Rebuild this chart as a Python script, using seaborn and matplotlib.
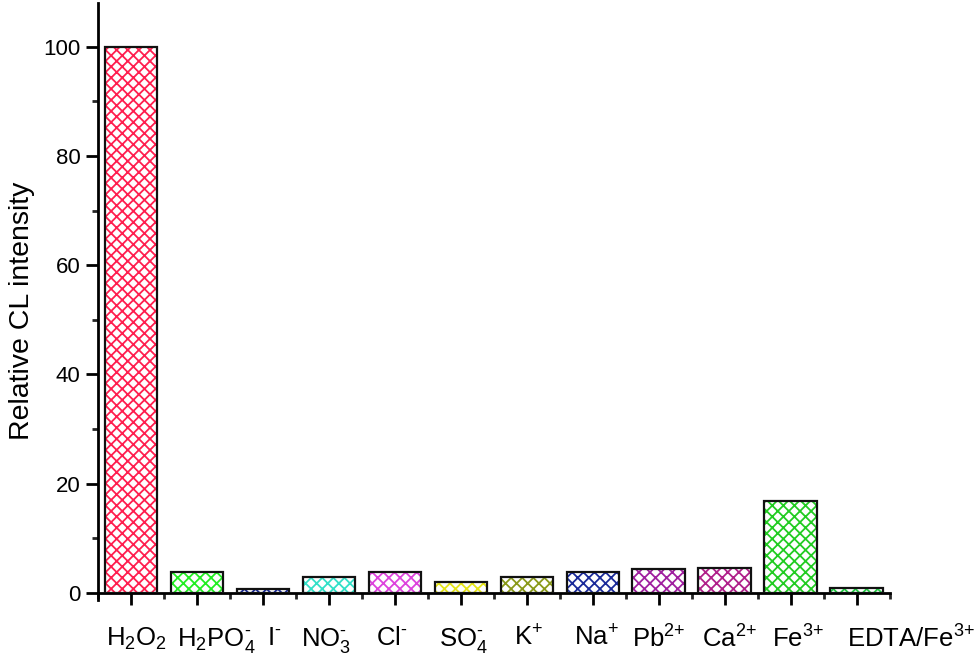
import matplotlib
matplotlib.use("Agg")
import matplotlib.pyplot as plt
import seaborn as sns
import pandas as pd
from matplotlib.patches import Rectangle
from matplotlib.ticker import MultipleLocator
from matplotlib.transforms import ScaledTranslation

categories = ['H$_2$O$_2$', 'H$_2$PO$_4^{‐}$', 'I$^{‐}$', 'NO$_3^{‐}$', 'Cl$^{‐}$', 'SO$_4^{‐}$',
              'K$^{+}$', 'Na$^{+}$', 'Pb$^{2{+}}$', 'Ca$^{2{+}}$', 'Fe$^{3{+}}$', 'EDTA/Fe$^{3{+}}$']
values = [100, 3.8, 0.7, 3.0, 3.8, 2.0, 3.0, 3.8, 4.4, 4.6, 16.9, 0.9]
hatch_colors = ['#ff1f4f', '#22ee22', '#1a2a99', '#33e0c8', '#dd44dd', '#e6e61a',
                '#8a9a1a', '#1a2a99', '#a020a0', '#b0208a', '#22cc22', '#22cc44']

# horizontal nudges (pixels) of the tick labels, as laid out in the reference
label_shift_px = [5, 19, 11, -3, -3, 3, 2, 3, 0, 5, 7, 54]

sns.set_style('ticks')
plt.rcParams['font.family'] = ['Liberation Sans', 'DejaVu Sans']
plt.rcParams['mathtext.fontset'] = 'custom'
plt.rcParams['mathtext.rm'] = 'Liberation Sans'
plt.rcParams['mathtext.it'] = 'Liberation Sans:italic'
plt.rcParams['mathtext.bf'] = 'Liberation Sans:bold'
plt.rcParams['hatch.linewidth'] = 1.3
plt.rcParams['text.color'] = 'black'
plt.rcParams['axes.labelcolor'] = 'black'

df = pd.DataFrame({'cat': categories, 'val': values})

fig = plt.figure(figsize=(9.8, 6.67), dpi=100)
ax = fig.add_axes([0.1, 0.111, 0.808, 0.8845])

sns.barplot(data=df, x='cat', y='val', color='white', width=0.8, ax=ax,
            saturation=1, errorbar=None)

for patch, hc in zip(list(ax.patches), hatch_colors):
    patch.set_facecolor('white')
    patch.set_hatch('xxx')
    patch.set_edgecolor(hc)
    patch.set_linewidth(0)
    outline = Rectangle(patch.get_xy(), patch.get_width(), patch.get_height(),
                        fill=False, edgecolor='#111111', linewidth=1.6, zorder=3)
    ax.add_patch(outline)

ax.set_xlim(-0.5, len(categories) - 0.5)
ax.set_ylim(0, 108)
ax.yaxis.set_major_locator(MultipleLocator(20))
ax.yaxis.set_minor_locator(MultipleLocator(10))
ax.set_xticks(range(len(categories)))
ax.set_xticks([i - 0.5 for i in range(len(categories) + 1)], minor=True)
ax.set_xticklabels(categories, fontsize=18.5)
ax.set_xlabel('')
ax.set_ylabel('Relative CL intensity', fontsize=20.5)
ax.yaxis.set_label_coords(-0.08, 0.478)

for s in ['top', 'right']:
    ax.spines[s].set_visible(False)
for s in ['left', 'bottom']:
    ax.spines[s].set_linewidth(2)
    ax.spines[s].set_color('black')
ax.spines['left'].set_bounds(-1.3, 108)

ax.tick_params(axis='y', which='major', direction='out', length=8.5, width=2,
               labelsize=16, pad=4, colors='black')
ax.tick_params(axis='y', which='minor', direction='out', length=4.5, width=2)
ax.tick_params(axis='x', which='major', direction='out', length=8.5, width=2,
               pad=15, colors='black')
ax.tick_params(axis='x', which='minor', direction='out', length=4, width=2)

for lab, dx in zip(ax.get_xticklabels(), label_shift_px):
    lab.set_transform(lab.get_transform() + ScaledTranslation(dx / 100, 0, fig.dpi_scale_trans))

fig.savefig('out.png', dpi=100)
